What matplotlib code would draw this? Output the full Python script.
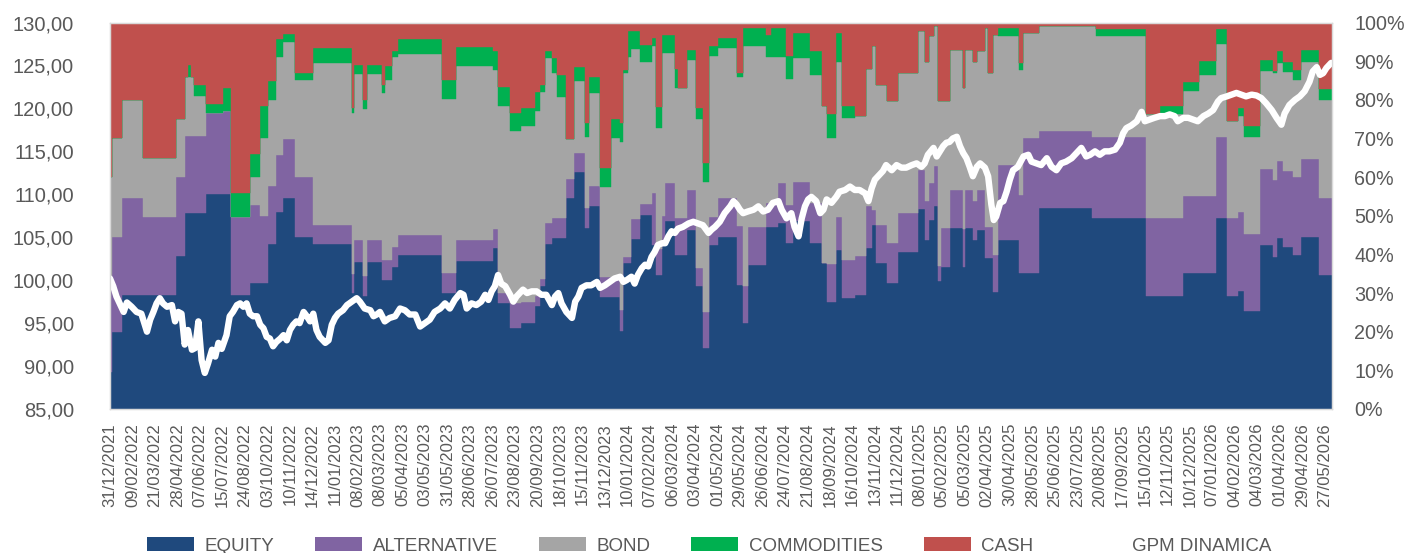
import numpy as np
import matplotlib
matplotlib.use("Agg")
import matplotlib.pyplot as plt
from matplotlib.patches import Patch
from matplotlib.lines import Line2D

plt.rcParams['font.family'] = ['Liberation Sans', 'DejaVu Sans']

# ---------------- data ----------------
dates = ["31/12/2021", "09/02/2022", "21/03/2022", "28/04/2022", "07/06/2022", "15/07/2022",
         "24/08/2022", "03/10/2022", "10/11/2022", "14/12/2022", "11/01/2023", "08/02/2023",
         "08/03/2023", "05/04/2023", "03/05/2023", "31/05/2023", "28/06/2023", "26/07/2023",
         "23/08/2023", "20/09/2023", "18/10/2023", "15/11/2023", "13/12/2023", "10/01/2024",
         "07/02/2024", "06/03/2024", "03/04/2024", "01/05/2024", "29/05/2024", "26/06/2024",
         "24/07/2024", "21/08/2024", "18/09/2024", "16/10/2024", "13/11/2024", "11/12/2024",
         "08/01/2025", "05/02/2025", "05/03/2025", "02/04/2025", "30/04/2025", "28/05/2025",
         "25/06/2025", "23/07/2025", "20/08/2025", "17/09/2025", "15/10/2025", "12/11/2025",
         "10/12/2025", "07/01/2026", "04/02/2026", "04/03/2026", "01/04/2026", "29/04/2026",
         "27/05/2026"]
label_every = 28          # observations between two date labels
n_obs = 1521              # number of observations

# allocation changes: observation index where each allocation starts (percent values)
seg_obs = [0, 3, 15, 41, 82, 93, 97, 101, 104, 119, 141, 151, 174, 187, 197, 207, 215, 230, 253,
           301, 304, 315, 320, 338, 342, 351, 359, 413, 431, 477, 483, 498, 512, 529, 535, 541,
           550, 556, 568, 577, 591, 596, 610, 624, 635, 639, 645, 649, 660, 674, 680, 687, 691,
           703, 707, 718, 730, 738, 745, 757, 780, 788, 794, 817, 823, 832, 842, 850, 871, 886,
           892, 904, 911, 927, 941, 948, 954, 967, 981, 1006, 1014, 1020, 1025, 1031, 1034,
           1046, 1062, 1064, 1074, 1079, 1089, 1093, 1099, 1105, 1132, 1137, 1156, 1222, 1227,
           1290, 1307, 1336, 1356, 1377, 1390, 1404, 1412, 1431, 1448, 1452, 1460, 1473, 1482,
           1505]
equity = [9.7, 19.8, 29.5, 29.5, 39.7, 50.8, 50.8, 50.8, 50.8, 55.7, 55.7, 29.5, 32.7, 32.7, 42.7,
          50.9, 54.7, 44.6, 42.6,
          30.0, 38.1, 29.2, 38.1, 33.4, 33.4, 36.7, 39.9, 29.9, 38.4, 41.6, 27.5, 20.9, 22.2, 26.7,
          31.7, 42.7, 44.2, 44.2, 54.5, 61.2, 46.8, 52.5, 28.9, 28.9, 20.3, 37.9, 37.9, 43.9, 50.2,
          42.4, 34.7, 43.7, 48.7, 39.9, 39.9, 46.2, 31.7, 15.7, 42.4, 44.6, 32.1, 22.2, 37.3, 47.2,
          47.2, 48.2, 42.9, 48.7, 42.9, 37.7, 27.8, 41.2, 28.6, 29.5, 41.6, 47.6, 37.7, 32.7, 40.7,
          51.7, 43.7, 48.9, 52.5, 33.0, 36.7, 46.8, 36.7, 46.8, 43.7, 46.3, 39.0, 39.0, 30.4, 43.7,
          35.3, 35.3, 51.9, 49.4, 49.4, 29.2, 29.2, 35.3, 35.3, 49.4, 29.2, 30.6, 25.4, 42.5, 39.3,
          44.2, 41.9, 39.9, 44.6, 34.7]
alternative = [23.9, 24.8, 25.2, 20.3, 20.2, 19.9, 19.9, 19.9, 19.9, 20.8, 21.3, 20.3, 20.0, 17.3,
               15.1, 14.8, 15.1, 15.3, 5.0,
               5.0, 5.5, 5.1, 5.5, 5.2, 5.2, 5.1, 5.1, 5.2, 5.2, 4.9, 2.6, 6.5, 5.6, 2.5, 1.9, 5.4,
               5.2, 5.2, 4.9, 5.1, 5.1, 5.2, 5.2, 5.2, 5.3, 1.3, 1.3, 5.2, 2.9, 13.6, 6.6, 6.3, 9.7,
               9.5, 9.5, 10.5, 4.7, 9.5, 7.2, 9.9, 15.3, 9.5, 9.9, 6.2, 6.2, 10.2, 9.9, 10.1, 10.3,
               0.0, 9.7, 8.6, 10.0, 10.1, 10.8, 3.9, 9.9, 10.2, 10.1, 10.2, 10.0, 9.5, 10.4, 4.0,
               10.1, 9.9, 10.0, 9.9, 10.0, 10.4, 8.2, 8.2, 9.5, 19.5, 20.1, 34.8, 19.9, 21.0, 21.0,
               20.2, 20.2, 19.8, 19.8, 21.0, 20.2, 20.3, 19.9, 19.5, 20.0, 19.9, 19.7, 20.0, 20.1,
               20.0]
bond = [26.5, 25.5, 25.3, 15.1, 15.1, 15.3, 15.3, 15.3, 10.3, 0.0, 0.0, 0.0, 7.2, 20.1, 22.2, 25.5,
        25.1, 25.1, 41.9,
        41.5, 43.0, 43.3, 43.0, 43.1, 46.6, 49.2, 46.8, 45.1, 45.2, 41.2, 48.3, 44.6, 45.5, 48.0,
        48.5, 42.7, 37.5, 31.3, 10.4, 18.6, 18.4, 24.0, 23.3, 36.0, 43.6, 47.7, 52.0, 44.0, 36.6,
        37.8, 31.5, 42.1, 33.7, 33.6, 33.6, 33.5, 38.6, 33.6, 41.8, 38.9, 38.6, 62.3, 46.8, 37.8,
        37.8, 32.8, 32.7, 32.0, 33.2, 40.6, 32.6, 40.1, 36.6, 36.2, 35.5, 42.5, 36.3, 36.8, 36.1,
        36.0, 36.2, 38.1, 36.1, 42.7, 32.9, 36.2, 36.3, 36.2, 36.2, 35.8, 51.3, 39.7, 56.9, 33.3,
        32.3, 27.3, 27.2, 28.6, 26.1, 26.9, 26.9, 27.3, 31.3, 24.1, 25.1, 24.9, 25.2, 25.5, 27.6,
        25.5, 25.5, 25.1, 25.2, 25.3]
commodities = [0.0, 0.0, 0.0, 0.0, 0.0, 0.0, 3.0, 0.0, 2.9, 2.4, 6.0, 6.0, 6.1, 8.2, 4.9, 4.5, 2.1,
               1.9, 4.0,
               1.5, 2.4, 2.4, 2.4, 2.2, 3.6, 1.5, 3.9, 4.8, 4.8, 4.8, 4.9, 4.7, 4.7, 4.9, 1.8, 1.7,
               3.9, 5.7, 0.0, 3.7, 3.6, 4.3, 4.9, 4.9, 4.7, 0.8, 6.5, 4.6, 4.5, 2.1, 5.3, 4.7, 4.7,
               4.9, 0.0, 2.6, 2.8, 4.8, 2.4, 2.5, 0.9, 4.5, 4.5, 5.6, 7.3, 7.3, 5.9, 6.6, 6.1, 0.0,
               6.2, 7.3, 3.1, 0.0, 0.0, 0.0, 0.0, 0.0, 0.0, 0.0, 0.0, 0.0, 0.0, 0.0, 0.0, 0.0, 0.0,
               0.0, 0.0, 0.0, 0.0, 0.0, 0.0, 2.0, 1.8, 0.0, 0.0, 0.0, 1.9, 0.0, 2.1, 2.2, 3.6, 3.9,
               0.0, 2.0, 2.7, 2.9, 0.6, 2.9, 2.8, 2.7, 3.0, 2.8]
cash = [39.9, 29.9, 20.0, 35.1, 25.0, 14.0, 11.0, 14.0, 16.1, 21.1, 17.0, 44.2, 34.0, 21.7, 15.1,
        4.3, 3.0, 13.1, 6.5,
        22.0, 11.0, 20.0, 11.0, 16.1, 11.2, 7.5, 4.3, 15.0, 6.4, 7.5, 16.7, 23.3, 22.0, 17.9, 16.1,
        7.5, 9.2, 13.6, 30.2, 11.4, 26.1, 14.0, 37.7, 25.0, 26.1, 12.3, 2.3, 2.3, 5.8, 4.1, 21.9,
        3.2, 3.2, 12.1, 17.0, 7.2, 22.2, 36.4, 6.2, 4.1, 13.1, 1.5, 1.5, 3.2, 1.5, 1.5, 8.6, 2.6,
        7.5, 21.7, 23.7, 2.8, 21.7, 24.2, 12.1, 6.0, 16.1, 20.3, 13.1, 2.1, 10.1, 3.5, 1.0, 20.3,
        20.3, 7.1, 17.0, 7.1, 10.1, 7.5, 1.5, 13.1, 3.2, 1.5, 10.5, 2.6, 1.0, 1.0, 1.6, 23.7, 21.6,
        15.4, 10.0, 1.6, 25.5, 22.2, 26.8, 9.6, 12.5, 7.5, 10.1, 12.3, 7.1, 17.2]

# GPM DINAMICA (left axis)
line_obs = [0, 4, 8, 12, 17, 21, 27, 33, 39, 46, 50, 54, 58, 62, 66, 71, 77, 81, 85, 89, 93, 97,
            102, 106, 110, 114, 118, 122, 127, 131, 135, 139, 145, 149, 153, 158, 162, 166, 170,
            174, 178, 183, 187, 191, 195, 199, 203, 207, 212, 216, 220, 224, 228, 232, 236, 241,
            245, 249, 253, 257, 261, 268, 272, 276, 280, 284, 290, 295, 301, 307, 311, 317, 324,
            328, 332, 336, 342, 348, 355, 361, 367, 373, 380, 386, 392, 398, 404, 411, 417, 423,
            429, 436, 440, 444, 450, 456, 462, 467, 471, 475, 479, 483, 487, 492, 498, 502, 506,
            510, 514, 519, 525, 531, 537, 543, 550, 554, 558, 562, 568, 575, 579, 583, 587, 593,
            599, 606, 610, 616, 622, 628, 635, 639, 643, 649, 653, 657, 662, 666, 670, 674, 678,
            682, 687, 691, 695, 699, 703, 707, 713, 720, 726, 732, 738, 745, 749, 753, 759, 765,
            772, 776, 780, 784, 788, 794, 801, 807, 813, 819, 825, 832, 836, 842, 848, 852, 857,
            861, 865, 869, 873, 879, 884, 888, 892, 898, 904, 908, 915, 921, 927, 933, 940, 944,
            948, 952, 956, 962, 966, 973, 979, 985, 991, 998, 1004, 1010, 1014, 1018, 1025, 1029,
            1033, 1037, 1041, 1045, 1049, 1054, 1058, 1062, 1066, 1070, 1074, 1079, 1083, 1089,
            1093, 1097, 1100, 1103, 1108, 1112, 1116, 1120, 1124, 1130, 1137, 1143, 1147, 1153,
            1159, 1166, 1172, 1178, 1184, 1190, 1197, 1203, 1209, 1215, 1220, 1226, 1232, 1238,
            1244, 1251, 1257, 1261, 1265, 1271, 1278, 1284, 1288, 1294, 1300, 1307, 1313, 1319,
            1325, 1329, 1336, 1342, 1348, 1354, 1361, 1367, 1373, 1379, 1383, 1390, 1396, 1402,
            1408, 1414, 1421, 1427, 1433, 1439, 1446, 1452, 1458, 1462, 1468, 1475, 1481, 1487,
            1493, 1497, 1502, 1506, 1510, 1514, 1520]
gpm_dinamica = [100.2, 99.3, 98.1, 97.3, 96.3, 97.4, 96.9, 96.3, 96.1, 94.0, 95.4, 96.3, 97.3,
                97.9, 97.3, 96.9, 97.1, 95.2, 96.3, 96.1, 92.5, 94.2, 91.9, 92.1, 95.2, 90.7,
                89.2, 90.3, 91.9, 91.1, 92.7, 92.0, 93.6, 95.8, 96.3, 97.1, 97.3, 96.9, 97.3,
                96.1, 95.8, 95.8, 94.8, 94.4, 93.4, 93.2, 92.3, 92.8, 93.2, 93.6, 93.0, 94.2,
                94.8, 95.2, 95.0, 96.3, 95.8, 95.2, 96.1, 94.2, 93.4, 92.7, 93.0, 94.8, 95.6,
                96.1, 96.5, 97.1, 97.5, 97.9, 97.5, 96.7, 96.5, 95.8, 96.0, 96.3, 95.2, 95.6,
                95.8, 96.7, 96.5, 96.0, 96.0, 94.6, 95.0, 95.4, 96.3, 96.7, 97.3, 96.7, 97.7,
                98.5, 98.3, 96.7, 97.3, 97.1, 97.5, 98.3, 97.7, 98.7, 99.3, 100.6, 99.6, 99.3,
                98.3, 97.5, 98.1, 98.5, 98.9, 98.5, 98.7, 98.7, 98.3, 98.3, 97.1, 98.1, 98.5,
                97.3, 96.3, 95.6, 97.5, 98.1, 99.1, 99.4, 99.4, 99.8, 99.1, 99.4, 99.8, 100.2,
                100.4, 99.8, 100.0, 100.4, 99.6, 100.6, 101.4, 101.8, 101.6, 102.7, 103.3, 104.1,
                104.3, 104.3, 105.1, 105.7, 105.5, 106.0, 106.2, 106.6, 106.8, 106.6, 106.4,
                105.5, 105.9, 106.2, 106.8, 107.8, 108.6, 109.2, 108.8, 108.2, 107.8, 108.0,
                108.2, 108.6, 108.0, 108.2, 109.0, 109.2, 108.2, 107.2, 107.8, 106.2, 105.1,
                107.2, 108.6, 109.4, 109.7, 109.2, 107.8, 108.2, 109.4, 109.0, 109.7, 110.3,
                110.5, 110.9, 110.5, 110.5, 110.1, 109.2, 110.7, 111.7, 112.1, 112.7, 113.4,
                112.8, 113.4, 113.1, 113.1, 113.4, 113.6, 113.2, 113.6, 114.6, 115.4, 114.4,
                115.0, 115.6, 116.0, 116.1, 116.5, 116.7, 115.6, 114.8, 114.2, 113.2, 112.1,
                113.2, 113.6, 113.1, 112.1, 108.8, 107.0, 107.4, 109.0, 109.2, 110.3, 111.7,
                112.8, 113.2, 114.4, 114.6, 113.8, 113.6, 113.4, 114.2, 113.2, 112.8, 113.6,
                113.8, 114.2, 114.8, 115.4, 114.4, 114.6, 115.0, 114.6, 115.0, 115.0, 115.2,
                116.0, 117.1, 117.7, 118.0, 118.5, 119.6, 118.5, 118.7, 118.9, 119.1, 119.1,
                119.3, 119.1, 118.5, 118.9, 118.9, 118.7, 118.5, 119.1, 119.4, 119.8, 120.8,
                121.2, 121.4, 121.6, 121.8, 121.6, 121.4, 121.6, 121.5, 121.2, 120.6, 119.8,
                118.9, 118.1, 119.4, 120.4, 121.0, 121.4, 122.0, 123.1, 124.3, 124.8, 123.9,
                124.1, 124.7, 125.3]

series_names = ["EQUITY", "ALTERNATIVE", "BOND", "COMMODITIES", "CASH"]
series_colors = ["#1F497D", "#8064A2", "#A5A5A5", "#00B050", "#C0504D"]
line_name = "GPM DINAMICA"

left_ticks = [85, 90, 95, 100, 105, 110, 115, 120, 125, 130]
right_ticks = [0, 10, 20, 30, 40, 50, 60, 70, 80, 90, 100]

# ---------------- figure ----------------
W, H = 1418, 553
fig = plt.figure(figsize=(W / 100, H / 100), dpi=100)
ax = fig.add_axes([110 / W, 1 - 409 / H, 1222 / W, 386.5 / H])

x_steps = np.append(seg_obs, n_obs)
stack = [np.append(s, s[-1]) / 100.0 for s in (equity, alternative, bond, commodities, cash)]
ax.stackplot(x_steps, *stack, colors=series_colors, step='post', linewidth=0.3,
             edgecolor='face', antialiased=True)

ax.set_xlim(0, n_obs)
ax.set_ylim(0, 1)

ax2 = ax.twinx()
ax2.plot(line_obs, gpm_dinamica, color='white', lw=4.6, solid_joinstyle='round',
         solid_capstyle='round')
ax2.set_ylim(85, 130)

# axes placement: percent on the right, index on the left
ax.yaxis.tick_right()
ax2.yaxis.tick_left()

tick_color = '#595959'
ax.set_yticks([t / 100 for t in right_ticks])
ax.set_yticklabels([f"{t}%" for t in right_ticks])
ax2.set_yticks(left_ticks)
ax2.set_yticklabels([f"{t:.2f}".replace('.', ',') for t in left_ticks])

ax.set_xticks(np.arange(len(dates)) * label_every)
ax.set_xticklabels(dates, rotation=90)

ax.tick_params(axis='y', length=0, pad=16, labelsize=14.2, labelcolor=tick_color)
ax2.tick_params(axis='y', length=0, pad=26, labelsize=14.5, labelcolor=tick_color)
ax.tick_params(axis='x', length=0, pad=10, labelsize=12, labelcolor=tick_color)

for a in (ax, ax2):
    for s in a.spines.values():
        s.set_color('#D9D9D9')
        s.set_linewidth(0.9)

handles = [Patch(facecolor=c, edgecolor='none') for c in series_colors]
handles.append(Line2D([0], [0], color='white', lw=4.6))
fig.legend(handles, series_names + [line_name], loc='center',
           bbox_to_anchor=(0.5, 1 - 546 / H), ncol=6, frameon=False,
           fontsize=13.5, handlelength=2.5, handleheight=0.75, handletextpad=0.55,
           columnspacing=2.2, labelcolor=tick_color)

fig.savefig("out.png", dpi=100)
